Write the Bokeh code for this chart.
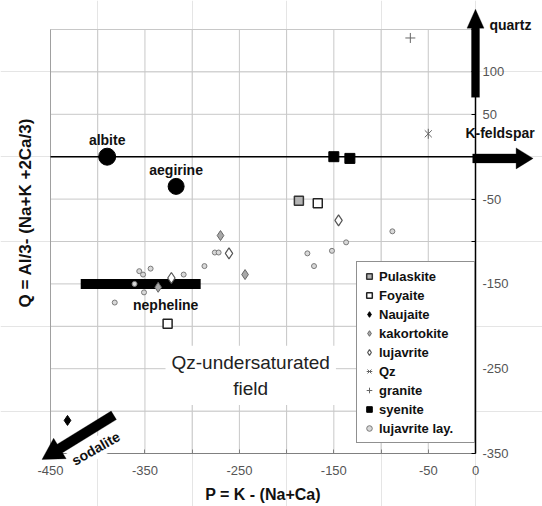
from math import hypot, pi

from bokeh.embed import file_html
from bokeh.models import (FixedTicker, Label, Legend, LegendItem, LinearAxis,
                          PolyAnnotation, Range1d)
from bokeh.plotting import figure
from bokeh.resources import INLINE

FONT = "Liberation Sans"

# --- reference minerals (P, Q) ---
albite_p, albite_q = [-390], [0]
aegirine_p, aegirine_q = [-317], [-35]
nepheline_p = [-418, -291]   # range of nepheline compositions
nepheline_q = [-150]

# --- rock samples ---
pulaskite_p, pulaskite_q = [-187], [-52]
foyaite_p, foyaite_q = [-167, -326], [-55, -197]
naujaite_p, naujaite_q = [-432], [-311]
kakortokite_p, kakortokite_q = [-270, -244, -336], [-93, -139, -154]
lujavrite_p, lujavrite_q = [-261, -322, -145], [-114, -143, -75]
qz_p, qz_q = [-50], [27]
granite_p, granite_q = [-69], [140]
syenite_p, syenite_q = [-150, -133], [0, -2]
lujlay_p = [-356, -352, -344, -361, -351, -382, -309, -287, -276, -272,
            -178, -171, -152, -137, -88]
lujlay_q = [-135, -139, -132, -150, -160, -172, -139, -129, -113, -113,
            -114, -129, -111, -101, -88]

# --- axes ---
P_LIM = (-450, 0)
Q_LIM = (-350, 150)
x_ticks = list(range(-450, 1, 50))
x_tick_labels = {-450: "-450", -350: "-350", -250: "-250", -150: "-150",
                 -50: "-50", 0: "0"}
y_ticks = list(range(-350, 151, 50))
y_tick_labels = {100: "100", 50: "50", -50: "-50", -150: "-150",
                 -250: "-250", -350: "-350"}

# The drawing area fills the whole canvas so the arrows and their names can
# run past the diagram box; the box itself sits inside these pixel margins.
W, H = 542, 506
M_LEFT, M_RIGHT, M_TOP, M_BOTTOM = 50, 67, 29, 53
KX = (W - M_LEFT - M_RIGHT) / (P_LIM[1] - P_LIM[0])   # px per unit
KY = (H - M_TOP - M_BOTTOM) / (Q_LIM[1] - Q_LIM[0])
x_rng = Range1d(P_LIM[0] - M_LEFT / KX, P_LIM[1] + M_RIGHT / KX)
y_rng = Range1d(Q_LIM[0] - M_BOTTOM / KY, Q_LIM[1] + M_TOP / KY)

p = figure(width=W, height=H, x_range=x_rng, y_range=y_rng,
           x_axis_location=None, y_axis_location=None, min_border=0,
           output_backend="svg", toolbar_location=None,
           background_fill_color="white", border_fill_color="white")
p.outline_line_color = None

# grid of the diagram box
p.segment(x0=x_ticks, y0=[Q_LIM[0]] * len(x_ticks), x1=x_ticks,
          y1=[Q_LIM[1]] * len(x_ticks), line_color="#c8c8c8", line_width=1)
p.segment(x0=[P_LIM[0]] * len(y_ticks), y0=y_ticks,
          x1=[P_LIM[1]] * len(y_ticks), y1=y_ticks, line_color="#c8c8c8",
          line_width=1)
p.segment(x0=[P_LIM[0]], y0=[Q_LIM[0]], x1=[P_LIM[0]], y1=[Q_LIM[1]],
          line_color="#a0a0a0", line_width=1)

xaxis = LinearAxis(fixed_location=Q_LIM[0], bounds=P_LIM,
                   ticker=FixedTicker(ticks=x_ticks),
                   major_label_overrides={t: x_tick_labels.get(t, "")
                                          for t in x_ticks})
yaxis = LinearAxis(fixed_location=P_LIM[1], bounds=Q_LIM,
                   ticker=FixedTicker(ticks=y_ticks),
                   major_label_overrides={t: y_tick_labels.get(t, "")
                                          for t in y_ticks})
for ax in (xaxis, yaxis):
    ax.minor_tick_line_color = None
    ax.major_tick_in = 4
    ax.major_tick_out = 0
    ax.major_label_text_font = FONT
    ax.major_label_text_font_size = "13px"
    ax.major_label_text_color = "#555555"

xaxis.axis_line_color = "#808080"
xaxis.major_tick_line_color = "#808080"
xaxis.major_label_standoff = 12
xaxis.axis_label = "P = K - (Na+Ca)"
xaxis.axis_label_text_font = FONT
xaxis.axis_label_text_font_size = "16px"
xaxis.axis_label_text_font_style = "bold"
xaxis.axis_label_text_color = "#111111"
xaxis.axis_label_standoff = 8

yaxis.axis_line_color = "black"
yaxis.axis_line_width = 1.5
yaxis.major_tick_line_color = "black"
yaxis.major_label_standoff = 7

p.add_layout(xaxis, "below")
p.add_layout(yaxis, "right")

# Q = 0 line
p.segment(x0=[P_LIM[0]], y0=[0], x1=[P_LIM[1]], y1=[0], line_color="black",
          line_width=1.5)

# nepheline composition bar
p.segment(x0=[nepheline_p[0]], y0=nepheline_q, x1=[nepheline_p[1]],
          y1=nepheline_q, line_color="black", line_width=10, line_cap="butt")

# mineral end members
p.scatter(albite_p, albite_q, marker="circle", size=17, color="black")
p.scatter(aegirine_p, aegirine_q, marker="circle", size=16, color="black")

r_lay = p.scatter(lujlay_p, lujlay_q, marker="circle", size=5,
                  fill_color="#d8d8d8", line_color="#7a7a7a", line_width=1)
r_pul = p.scatter(pulaskite_p, pulaskite_q, marker="square", size=9,
                  fill_color="#b4b4b4", line_color="#333333", line_width=1.5)
r_foy = p.scatter(foyaite_p, foyaite_q, marker="square", size=9,
                  fill_color="white", line_color="#222222", line_width=1.5)
r_nau = p.scatter(naujaite_p, naujaite_q, marker="diamond", size=10,
                  color="black")
r_kak = p.scatter(kakortokite_p, kakortokite_q, marker="diamond", size=10,
                  fill_color="#a8a8a8", line_color="#666666", line_width=1)
r_luj = p.scatter(lujavrite_p, lujavrite_q, marker="diamond", size=11,
                  fill_color="white", line_color="#555555", line_width=1.2)
r_qz1 = p.scatter(qz_p, qz_q, marker="x", size=10, line_color="#666666",
                  line_width=1)
r_qz2 = p.scatter(qz_p, qz_q, marker="dash", angle=pi / 2, size=10,
                  line_color="#666666", line_width=1)
r_gra = p.scatter(granite_p, granite_q, marker="cross", size=10,
                  line_color="#666666", line_width=1)
r_sye = p.scatter(syenite_p, syenite_q, marker="square", size=10,
                  color="black")

# mineral names
for x, y, txt, dy, dx in [
        (albite_p[0], albite_q[0], "albite", 17, 0),
        (aegirine_p[0], aegirine_q[0], "aegirine", 16, 0),
        ((nepheline_p[0] + nepheline_p[1]) / 2, nepheline_q[0], "nepheline",
         -21, 25)]:
    p.add_layout(Label(x=x, y=y, text=txt, x_offset=dx, y_offset=dy,
                       text_align="center", text_baseline="middle",
                       text_font=FONT, text_font_size="14px",
                       text_font_style="bold", text_color="#111111"))

# y axis title
p.add_layout(Label(x=-476, y=-66, text="Q = Al/3- (Na+K +2Ca/3)", angle=pi / 2,
                   text_align="center", text_baseline="middle", text_font=FONT,
                   text_font_size="17px", text_font_style="bold",
                   text_color="#111111"))

# arrow names
for x, y, txt, ang, bg in [(37, 155, "quartz", 0, None),
                           (26, 28, "K-feldspar", 0, None),
                           (-402, -344, "sodalite", 0.52, "white")]:
    p.add_layout(Label(x=x, y=y, text=txt, angle=ang, text_align="center",
                       text_baseline="middle", text_font=FONT,
                       text_font_size="14px", text_font_style="bold",
                       text_color="#111111", background_fill_color=bg,
                       padding=2))


# direction arrows, built as filled outlines in data space
def arrow_outline(x0, y0, x1, y1, shaft, head_w, head_len):
    dx, dy = (x1 - x0) * KX, (y1 - y0) * KY
    length = hypot(dx, dy)
    ux, uy = dx / length, dy / length
    nx, ny = -uy, ux
    base = length - head_len
    pts = [(nx * shaft / 2, ny * shaft / 2),
           (ux * base + nx * shaft / 2, uy * base + ny * shaft / 2),
           (ux * base + nx * head_w / 2, uy * base + ny * head_w / 2),
           (ux * length, uy * length),
           (ux * base - nx * head_w / 2, uy * base - ny * head_w / 2),
           (ux * base - nx * shaft / 2, uy * base - ny * shaft / 2),
           (-nx * shaft / 2, -ny * shaft / 2)]
    return ([x0 + px / KX for px, _ in pts], [y0 + py / KY for _, py in pts])


for spec in [(0, 70, 0, 174, 8, 17, 19),          # quartz
             (-3, -2, 61, -2, 9, 21, 17),          # K-feldspar
             (-383, -305, -459, -357, 10, 24, 21)]:  # sodalite
    xs, ys = arrow_outline(*spec)
    p.add_layout(PolyAnnotation(xs=xs, ys=ys, fill_color="black",
                                fill_alpha=1, line_color="black",
                                line_width=1))

# field annotation
p.add_layout(Label(x=-238, y=-258, text="Qz-undersaturated\nfield",
                   text_align="center", text_baseline="middle",
                   text_font=FONT, text_font_size="19px",
                   text_line_height=1.25, text_color="#222222",
                   background_fill_color="white", padding=6))

legend = Legend(items=[
    LegendItem(label="Pulaskite", renderers=[r_pul]),
    LegendItem(label="Foyaite", renderers=[r_foy]),
    LegendItem(label="Naujaite", renderers=[r_nau]),
    LegendItem(label="kakortokite", renderers=[r_kak]),
    LegendItem(label="lujavrite", renderers=[r_luj]),
    LegendItem(label="Qz", renderers=[r_qz1, r_qz2]),
    LegendItem(label="granite", renderers=[r_gra]),
    LegendItem(label="syenite", renderers=[r_sye]),
    LegendItem(label="lujavrite lay.", renderers=[r_lay]),
], location=(356, 63), label_text_font=FONT, label_text_font_size="13px",
    label_text_font_style="bold", label_text_color="#111111",
    label_height=18, glyph_height=18, glyph_width=14, label_width=90,
    label_standoff=3, spacing=1, padding=5, margin=0,
    border_line_color="#222222", border_line_width=1,
    background_fill_color="white", background_fill_alpha=1)
p.add_layout(legend)

open("out.html", "w").write(file_html(p, INLINE))
